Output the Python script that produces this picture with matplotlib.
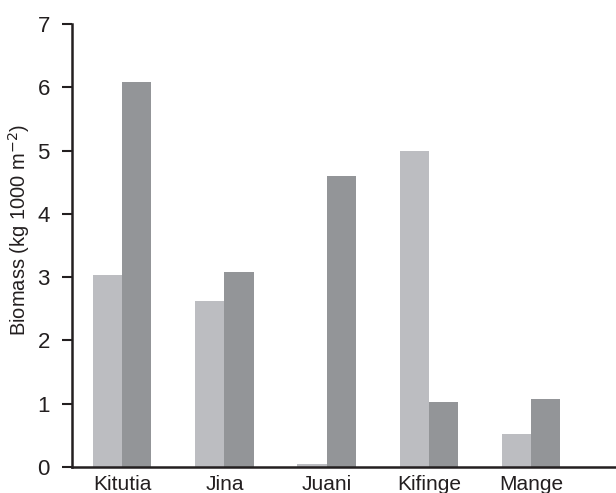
import matplotlib
matplotlib.use("Agg")
import matplotlib.pyplot as plt
import numpy as np

sites = ["Kitutia", "Jina", "Juani", "Kifinge", "Mange"]
series_a = [3.04, 2.62, 0.05, 5.0, 0.52]
series_b = [6.08, 3.08, 4.60, 1.02, 1.08]
yticks = [0, 1, 2, 3, 4, 5, 6, 7]

plt.rcParams["font.family"] = ["Liberation Sans", "DejaVu Sans"]

W, H = 616, 493
fig = plt.figure(figsize=(W / 100, H / 100), dpi=100)
ax = fig.add_axes([72 / W, 26 / H, 544 / W, 443 / H])

x = np.arange(len(sites))
bw = 0.285
ax.bar(x - bw / 2, series_a, width=bw, color="#bcbdc1", linewidth=0)
ax.bar(x + bw / 2, series_b, width=bw, color="#939598", linewidth=0)

ax.set_xlim(-0.49, 4.83)
ax.set_ylim(0, 7)
ax.set_yticks(yticks)
ax.set_xticks(x)
ax.set_xticklabels(sites)

for s in ("top", "right"):
    ax.spines[s].set_visible(False)
for s in ("left", "bottom"):
    ax.spines[s].set_linewidth(1.8)
    ax.spines[s].set_color("#231f20")

ax.tick_params(axis="y", direction="out", length=7, width=1.5, labelsize=16,
               colors="#231f20", pad=9)
ax.tick_params(axis="x", length=0, labelsize=15, colors="#231f20", pad=6)

ax.set_ylabel("Biomass (kg 1000 m$^{-2}$)", fontsize=14.5, color="#231f20")
ax.yaxis.set_label_coords(-0.074, 0.535)

fig.savefig("out.png", dpi=100)
